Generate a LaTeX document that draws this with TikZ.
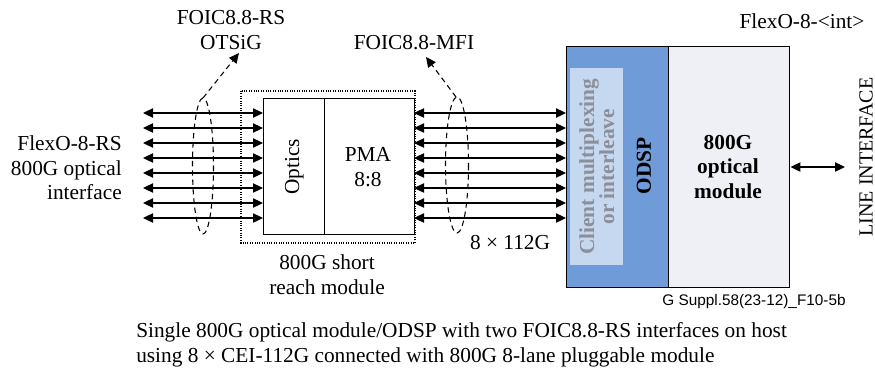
\documentclass[tikz,border=0pt]{standalone}
\usepackage{fontspec}
\setmainfont{Liberation Serif}
\newfontfamily\labelsans{Liberation Sans}
\usetikzlibrary{arrows.meta,calc}
\definecolor{odspblue}{HTML}{6F9BD9}
\definecolor{muxblue}{HTML}{C6D8F0}
\definecolor{modgray}{HTML}{EEF0F5}
\definecolor{muxtext}{HTML}{8A8F99}
\tikzset{
  txt/.style={font=\fontsize{16}{18.5}\selectfont, inner sep=0pt, align=center},
  blk/.style={draw, line width=1.1pt, inner sep=0pt, anchor=north west},
  lane/.style={line width=0.8pt, {Triangle[length=7.5pt,width=7pt]}-{Triangle[length=7.5pt,width=7pt]}},
  bundle/.style={dashed, line width=0.8pt, dash pattern=on 4pt off 3pt},
  pointer/.style={dashed, line width=0.8pt, dash pattern=on 4pt off 3pt, -{Triangle[length=7.5pt,width=7pt]}}
}
\begin{document}
\begin{tikzpicture}[x=0.75pt,y=-0.75pt]
\useasboundingbox (0,0) rectangle (875,369);

% short reach module outline
\draw[densely dotted, line width=0.8pt] (241,91) rectangle (415,243);
\node[blk, minimum width=61*0.75pt, minimum height=136*0.75pt] (optics) at (263,98) {};
\node[blk, minimum width=90*0.75pt, minimum height=136*0.75pt] (pma) at (324,98) {};
\node[txt, rotate=90] at (optics.center) {Optics};
\node[txt] at (368,167) {PMA\\8:8};
\node[txt] (srm) at (327,275) {800G short\\reach module};

% ODSP and optical module
\node[blk, fill=odspblue, minimum width=102*0.75pt, minimum height=241*0.75pt] (odsp) at (566,46) {};
\node[anchor=north west, fill=muxblue, minimum width=53*0.75pt, minimum height=197*0.75pt, inner sep=0pt] (mux) at (570,68) {};
\node[txt, rotate=90, font=\fontsize{16}{15}\selectfont\bfseries, text=muxtext] at (mux.center) {Client multiplexing\\or interleave};
\node[txt, rotate=90, font=\fontsize{16}{18}\selectfont\bfseries] at (644,166) {ODSP};
\node[blk, fill=modgray, minimum width=121*0.75pt, minimum height=241*0.75pt] (optmod) at (668,46) {};
\node[txt, font=\fontsize{16}{18.5}\selectfont\bfseries] at (728,167) {800G\\optical\\module};

% eight lanes on each side
\foreach \i in {0,...,7} {
  \coordinate (l\i) at (143,{113+15*\i});
  \draw[lane] (l\i) -- (l\i -| optics.west);
  \coordinate (r\i) at (414,{113+15*\i});
  \draw[lane] (r\i) -- (r\i -| odsp.west);
}

% line side
\coordinate (lineend) at (845,167);
\draw[lane] (optmod.east |- lineend) -- (lineend);
\node[txt, rotate=90, font=\fontsize{15}{18}\selectfont] at (866,157) {LINE INTERFACE};

% lane bundles and their labels
\draw[bundle] (203,166) ellipse [x radius=10.5, y radius=68];
\coordinate (rsptr) at (239,53);
\draw[pointer] (203,98) -- (rsptr);
\node[txt] (rslbl) at (231,30) {FOIC8.8-RS\\OTSiG};

\draw[bundle] (457,165) ellipse [x radius=11.5, y radius=68];
\coordinate (mfiptr) at (426,57);
\draw[pointer] (456,97) -- (mfiptr);
\node[txt] (mfilbl) at (414,43) {FOIC8.8-MFI};

\node[txt] (rate) at (510,243) {8 × 112G};
\node[txt, align=right, anchor=east] (flexrs) at (122,168) {FlexO-8-RS\\800G optical\\interface};
\node[txt] (flexint) at (802,21) {FlexO-8-<int>};
\node[inner sep=0pt, font=\labelsans\fontsize{11.5}{13}\selectfont] (figid) at (754,302) {G Suppl.58(23-12)\_F10-5b};

% caption, one node per line
\node[txt, anchor=base west] (capa) at (136,337) {Single 800G optical module/ODSP with two FOIC8.8-RS interfaces on host};
\node[txt, anchor=base west] (capb) at (136,362) {using 8 × CEI-112G connected with 800G 8-lane pluggable module};
\end{tikzpicture}
\end{document}
